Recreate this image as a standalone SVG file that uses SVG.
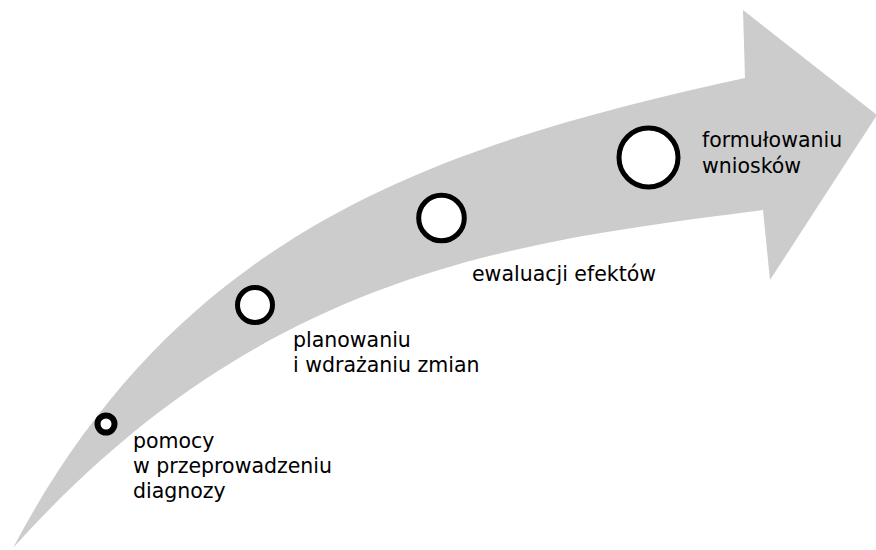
<svg xmlns="http://www.w3.org/2000/svg" width="876" height="550" viewBox="0 0 876 550">
<style>
.arrow{fill:#cccccc;stroke:none}
.dot{fill:#ffffff;stroke:#000000}
.lbl{font-family:"DejaVu Sans","Liberation Sans",sans-serif;font-size:20.5px;fill:#000000}
</style>
<rect width="876" height="550" fill="#ffffff"/>
<g id="connectors">
<path id="arrow" class="arrow" d="M13,548 C183,225 445,144 745,78 L743,10 L877,115 L770,280 L763,210 C513,242.5 263,270 13,548 Z"/>
</g>
<g id="node1">
<circle class="dot" cx="106" cy="424" r="8.5" stroke-width="6"/>
<text class="lbl" x="133" y="448">pomocy</text>
<text class="lbl" x="133" y="473">w przeprowadzeniu</text>
<text class="lbl" x="133" y="498">diagnozy</text>
</g>
<g id="node2">
<circle class="dot" cx="255" cy="305" r="17.5" stroke-width="5"/>
<text class="lbl" x="293" y="347">planowaniu</text>
<text class="lbl" x="293" y="372">i wdrażaniu zmian</text>
</g>
<g id="node3">
<circle class="dot" cx="441.5" cy="218" r="22.8" stroke-width="5"/>
<text class="lbl" x="472" y="281">ewaluacji efektów</text>
</g>
<g id="node4">
<circle class="dot" cx="648.5" cy="157.5" r="29.5" stroke-width="5"/>
<text class="lbl" x="702" y="147">formułowaniu</text>
<text class="lbl" x="702" y="173">wniosków</text>
</g>
</svg>
